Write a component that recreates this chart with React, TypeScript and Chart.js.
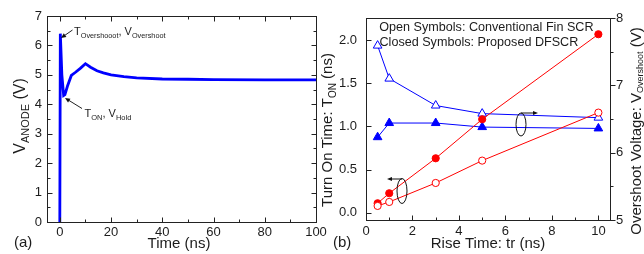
import React, { useEffect, useRef } from 'react';
import { Chart, registerables } from 'chart.js';

Chart.register(...registerables);

const FONT = '"Liberation Sans", Arial, Helvetica, sans-serif';
const INK = '#1c1c1c';
const BLUE = '#0000ff';
const RED = '#ff0000';

// ---------- Panel (a): anode voltage transient ----------
const timeNs = [0, 0.2, 0.8, 1.5, 2.0, 3.0, 4.5, 6.0, 8.0, 10.0, 12.0, 14.5, 17, 20, 25, 30, 40, 50, 60, 80, 100];
const vAnode = [0, 6.4, 5.0, 4.3, 4.33, 4.62, 4.98, 5.08, 5.22, 5.38, 5.26, 5.14, 5.07, 5.0, 4.94, 4.9, 4.86, 4.85, 4.84, 4.83, 4.83];
const timeTicks = [0, 20, 40, 60, 80, 100];
const timeMinorTicks = [10, 30, 50, 70, 90];
const vAnodeTicks = [0, 1, 2, 3, 4, 5, 6, 7];
const vAnodeMinorTicks = [0.5, 1.5, 2.5, 3.5, 4.5, 5.5, 6.5];

// ---------- Panel (b): rise-time dependence ----------
const riseTimeNs = [0.5, 1, 3, 5, 10];
const tonConventional = [0.078, 0.124, 0.344, 0.603, 1.159];
const tonProposed = [0.109, 0.225, 0.63, 1.082, 2.067];
const vosConventional = [7.59, 7.1, 6.7, 6.58, 6.52];
const vosProposed = [6.23, 6.44, 6.44, 6.38, 6.36];
const riseTicks = [0, 2, 4, 6, 8, 10];
const riseMinorTicks = [1, 3, 5, 7, 9];
const tonTicks = [0, 0.5, 1.0, 1.5, 2.0];
const vosTicks = [5, 6, 7, 8];
const vosMinorTicks = [5.5, 6.5, 7.5];

type Part = { t: string; sub?: boolean };

function rich(
  ctx: CanvasRenderingContext2D,
  parts: Part[],
  x: number,
  y: number,
  size: number,
  subSize: number,
  align: 'left' | 'center' = 'left',
  rot = 0,
  subShift = 0.3
) {
  ctx.save();
  ctx.translate(x, y);
  ctx.rotate(rot);
  ctx.fillStyle = INK;
  ctx.textAlign = 'left';
  ctx.textBaseline = 'alphabetic';
  const widths = parts.map((p) => {
    ctx.font = `${p.sub ? subSize : size}px ${FONT}`;
    return ctx.measureText(p.t).width;
  });
  const total = widths.reduce((a, b) => a + b, 0);
  let cx = align === 'center' ? -total / 2 : 0;
  parts.forEach((p, i) => {
    ctx.font = `${p.sub ? subSize : size}px ${FONT}`;
    ctx.fillText(p.t, cx, p.sub ? size * subShift : 0);
    cx += widths[i];
  });
  ctx.restore();
}

function arrow(ctx: CanvasRenderingContext2D, x1: number, y1: number, x2: number, y2: number, head = 5, wid = 2.3) {
  const ang = Math.atan2(y2 - y1, x2 - x1);
  const c = Math.cos(ang);
  const s = Math.sin(ang);
  ctx.beginPath();
  ctx.moveTo(x1, y1);
  ctx.lineTo(x2 - c * head * 0.7, y2 - s * head * 0.7);
  ctx.stroke();
  ctx.beginPath();
  ctx.moveTo(x2, y2);
  ctx.lineTo(x2 - head * c + wid * s, y2 - head * s - wid * c);
  ctx.lineTo(x2 - head * c - wid * s, y2 - head * s + wid * c);
  ctx.closePath();
  ctx.fill();
}

function frame(chart: any) {
  const ctx = chart.ctx as CanvasRenderingContext2D;
  const a = chart.chartArea;
  const l = Math.round(a.left) + 0.5;
  const t = Math.round(a.top) + 0.5;
  const r = Math.round(a.right) + 0.5;
  const b = Math.round(a.bottom) + 0.5;
  ctx.strokeRect(l, t, r - l, b - t);
}

function marks(chart: any, scaleId: string, values: number[], len: number, edge: string, dir: number) {
  const ctx = chart.ctx as CanvasRenderingContext2D;
  const a = chart.chartArea;
  const s = chart.scales[scaleId];
  ctx.beginPath();
  for (const v of values) {
    const p = Math.round(s.getPixelForValue(v)) + 0.5;
    if (edge === 'bottom') {
      const y = Math.round(a.bottom) + 0.5;
      ctx.moveTo(p, y);
      ctx.lineTo(p, y - dir * len);
    } else if (edge === 'top') {
      const y = Math.round(a.top) + 0.5;
      ctx.moveTo(p, y);
      ctx.lineTo(p, y + dir * len);
    } else if (edge === 'left') {
      const x = Math.round(a.left) + 0.5;
      ctx.moveTo(x, p);
      ctx.lineTo(x + dir * len, p);
    } else {
      const x = Math.round(a.right) + 0.5;
      ctx.moveTo(x, p);
      ctx.lineTo(x - dir * len, p);
    }
  }
  ctx.stroke();
}

const panelAPlugin = {
  id: 'panelA',
  afterDraw(chart: any) {
    const ctx = chart.ctx as CanvasRenderingContext2D;
    ctx.save();
    ctx.strokeStyle = '#222';
    ctx.fillStyle = '#111';
    ctx.lineWidth = 1;
    frame(chart);
    marks(chart, 'x', timeTicks, 5, 'bottom', 1);
    marks(chart, 'x', timeMinorTicks, 3, 'bottom', 1);
    marks(chart, 'x', timeTicks, 5, 'top', 1);
    marks(chart, 'x', timeMinorTicks, 3, 'top', 1);
    marks(chart, 'y', vAnodeTicks, 5, 'left', 1);
    marks(chart, 'y', vAnodeMinorTicks, 3, 'left', 1);
    marks(chart, 'y', vAnodeTicks, 5, 'right', 1);
    marks(chart, 'y', vAnodeMinorTicks, 3, 'right', 1);

    // annotations
    ctx.lineWidth = 1;
    arrow(ctx, 72.5, 30, 61, 38);
    rich(ctx, [{ t: 'T' }, { t: 'Overshooot', sub: true }, { t: ', V' }, { t: 'Overshoot', sub: true }], 74, 35, 11, 7.3);
    arrow(ctx, 82, 108.5, 65, 98);
    rich(ctx, [{ t: 'T' }, { t: 'ON', sub: true }, { t: ', V' }, { t: 'Hold', sub: true }], 84.5, 117, 11, 7.5);

    // titles
    rich(ctx, [{ t: 'V' }, { t: 'ANODE', sub: true }, { t: ' (V)' }], 25, 116, 16, 11, 'center', -Math.PI / 2, 0.28);
    rich(ctx, [{ t: 'Time (ns)' }], 179, 248, 15, 10, 'center');
    rich(ctx, [{ t: '(a)' }], 14, 247, 15, 10);
    ctx.restore();
  },
};

const OFF_B = 320;

const panelBPlugin = {
  id: 'panelB',
  afterDraw(chart: any) {
    const ctx = chart.ctx as CanvasRenderingContext2D;
    ctx.save();
    ctx.strokeStyle = '#222';
    ctx.fillStyle = '#111';
    ctx.lineWidth = 1;
    frame(chart);
    marks(chart, 'x', riseTicks, 5, 'bottom', 1);
    marks(chart, 'x', riseMinorTicks, 3, 'bottom', 1);
    marks(chart, 'y', tonTicks, 5, 'left', 1);
    marks(chart, 'y1', vosTicks, 5, 'right', -1);
    marks(chart, 'y1', vosMinorTicks, 3, 'right', -1);

    // legend text
    rich(ctx, [{ t: 'Open Symbols: Conventional Fin SCR' }], 379.3 - OFF_B, 30.7, 12.6, 9);
    rich(ctx, [{ t: 'Closed Symbols: Proposed DFSCR' }], 379.5 - OFF_B, 46, 12.6, 9);

    // ellipses + arrows
    ctx.strokeStyle = '#111';
    ctx.beginPath();
    ctx.ellipse(521 - OFF_B, 124.5, 5, 11.5, 0, 0, Math.PI * 2);
    ctx.stroke();
    arrow(ctx, 521 - OFF_B, 113, 538 - OFF_B, 113, 5, 2);
    ctx.beginPath();
    ctx.ellipse(402 - OFF_B, 191, 5, 12.5, 0, 0, Math.PI * 2);
    ctx.stroke();
    arrow(ctx, 402 - OFF_B, 179, 387 - OFF_B, 179, 5, 2);

    // titles
    rich(ctx, [{ t: 'Rise Time: tr (ns)' }], 488 - OFF_B, 248, 15, 10, 'center');
    rich(ctx, [{ t: 'Turn On Time: T' }, { t: 'ON', sub: true }, { t: ' (ns)' }], 332 - OFF_B, 130, 15, 10, 'center', -Math.PI / 2, 0.25);
    rich(ctx, [{ t: 'Overshoot Voltage: V' }, { t: 'Overshoot', sub: true }, { t: ' (V)' }], 641 - OFF_B, 131, 15, 9, 'center', -Math.PI / 2, 0.15);
    rich(ctx, [{ t: '(b)' }], 333 - OFF_B, 247, 15, 10);
    ctx.restore();
  },
};

const tickFont = { family: FONT, size: 13 };
const noGrid = { display: false, drawTicks: false, tickLength: 0 };

function configA(): any {
  return {
    type: 'line',
    data: {
      datasets: [
        {
          label: 'V_ANODE',
          data: timeNs.map((x, i) => ({ x, y: vAnode[i] })),
          borderColor: BLUE,
          borderWidth: 2.8,
          pointRadius: 0,
          tension: 0,
          fill: false,
        },
      ],
    },
    options: {
      responsive: false,
      animation: false,
      devicePixelRatio: 1,
      layout: { padding: { top: 16, right: 14, left: 0, bottom: 0 } },
      plugins: { legend: { display: false }, tooltip: { enabled: false } },
      scales: {
        x: {
          type: 'linear',
          min: -5,
          max: 100,
          grid: noGrid,
          border: { display: false },
          afterBuildTicks: (s: any) => {
            s.ticks = timeTicks.map((value) => ({ value }));
          },
          afterFit: (s: any) => {
            s.height = 32;
          },
          ticks: { font: tickFont, color: INK, padding: 3, maxRotation: 0, autoSkip: false, callback: (v: any) => String(v) },
        },
        y: {
          type: 'linear',
          min: 0,
          max: 7,
          grid: noGrid,
          border: { display: false },
          afterBuildTicks: (s: any) => {
            s.ticks = vAnodeTicks.map((value) => ({ value }));
          },
          afterFit: (s: any) => {
            s.width = 47;
          },
          ticks: { font: tickFont, color: INK, padding: 5, autoSkip: false, callback: (v: any) => String(v) },
        },
      },
    },
    plugins: [panelAPlugin],
  };
}

function configB(): any {
  const pts = (ys: number[]) => riseTimeNs.map((x, i) => ({ x, y: ys[i] }));
  return {
    type: 'line',
    data: {
      datasets: [
        {
          label: 'TON conventional',
          data: pts(tonConventional),
          yAxisID: 'y',
          borderColor: RED,
          borderWidth: 1,
          pointStyle: 'circle',
          pointRadius: 3.6,
          pointBorderColor: RED,
          pointBackgroundColor: '#ffffff',
          pointBorderWidth: 1,
          tension: 0,
        },
        {
          label: 'TON proposed',
          data: pts(tonProposed),
          yAxisID: 'y',
          borderColor: RED,
          borderWidth: 1,
          pointStyle: 'circle',
          pointRadius: 3.6,
          pointBorderColor: RED,
          pointBackgroundColor: RED,
          pointBorderWidth: 1,
          tension: 0,
        },
        {
          label: 'Vos conventional',
          data: pts(vosConventional),
          yAxisID: 'y1',
          borderColor: BLUE,
          borderWidth: 1,
          pointStyle: 'triangle',
          pointRadius: 5,
          pointBorderColor: BLUE,
          pointBackgroundColor: '#ffffff',
          pointBorderWidth: 1,
          tension: 0,
        },
        {
          label: 'Vos proposed',
          data: pts(vosProposed),
          yAxisID: 'y1',
          borderColor: BLUE,
          borderWidth: 1,
          pointStyle: 'triangle',
          pointRadius: 5,
          pointBorderColor: BLUE,
          pointBackgroundColor: BLUE,
          pointBorderWidth: 1,
          tension: 0,
        },
      ],
    },
    options: {
      responsive: false,
      animation: false,
      devicePixelRatio: 1,
      layout: { padding: { top: 18, right: 0, left: 0, bottom: 0 } },
      plugins: { legend: { display: false }, tooltip: { enabled: false } },
      scales: {
        x: {
          type: 'linear',
          min: 0,
          max: 10.5,
          grid: noGrid,
          border: { display: false },
          afterBuildTicks: (s: any) => {
            s.ticks = riseTicks.map((value) => ({ value }));
          },
          afterFit: (s: any) => {
            s.height = 34;
          },
          ticks: { font: tickFont, color: INK, padding: 4, maxRotation: 0, autoSkip: false, callback: (v: any) => String(v) },
        },
        y: {
          type: 'linear',
          position: 'left',
          min: -0.085,
          max: 2.255,
          grid: noGrid,
          border: { display: false },
          afterBuildTicks: (s: any) => {
            s.ticks = tonTicks.map((value) => ({ value }));
          },
          afterFit: (s: any) => {
            s.width = 46;
          },
          ticks: { font: tickFont, color: INK, padding: 9, autoSkip: false, callback: (v: any) => Number(v).toFixed(1) },
        },
        y1: {
          type: 'linear',
          position: 'right',
          min: 5,
          max: 8,
          grid: noGrid,
          border: { display: false },
          afterBuildTicks: (s: any) => {
            s.ticks = vosTicks.map((value) => ({ value }));
          },
          afterFit: (s: any) => {
            s.width = 34;
          },
          ticks: { font: tickFont, color: INK, padding: 6, autoSkip: false, callback: (v: any) => String(v) },
        },
      },
    },
    plugins: [panelBPlugin],
  };
}

export default function App() {
  const aRef = useRef<HTMLCanvasElement>(null);
  const bRef = useRef<HTMLCanvasElement>(null);
  useEffect(() => {
    const a = new Chart(aRef.current as HTMLCanvasElement, configA());
    const b = new Chart(bRef.current as HTMLCanvasElement, configB());
    return () => {
      a.destroy();
      b.destroy();
    };
  }, []);
  return (
    <div style={{ position: 'fixed', left: 0, top: 0, width: 644, height: 254, background: '#ffffff', overflow: 'hidden' }}>
      <canvas ref={aRef} width={330} height={254} style={{ position: 'absolute', left: 0, top: 0, width: 330, height: 254 }} />
      <canvas ref={bRef} width={324} height={254} style={{ position: 'absolute', left: OFF_B, top: 0, width: 324, height: 254 }} />
    </div>
  );
}
